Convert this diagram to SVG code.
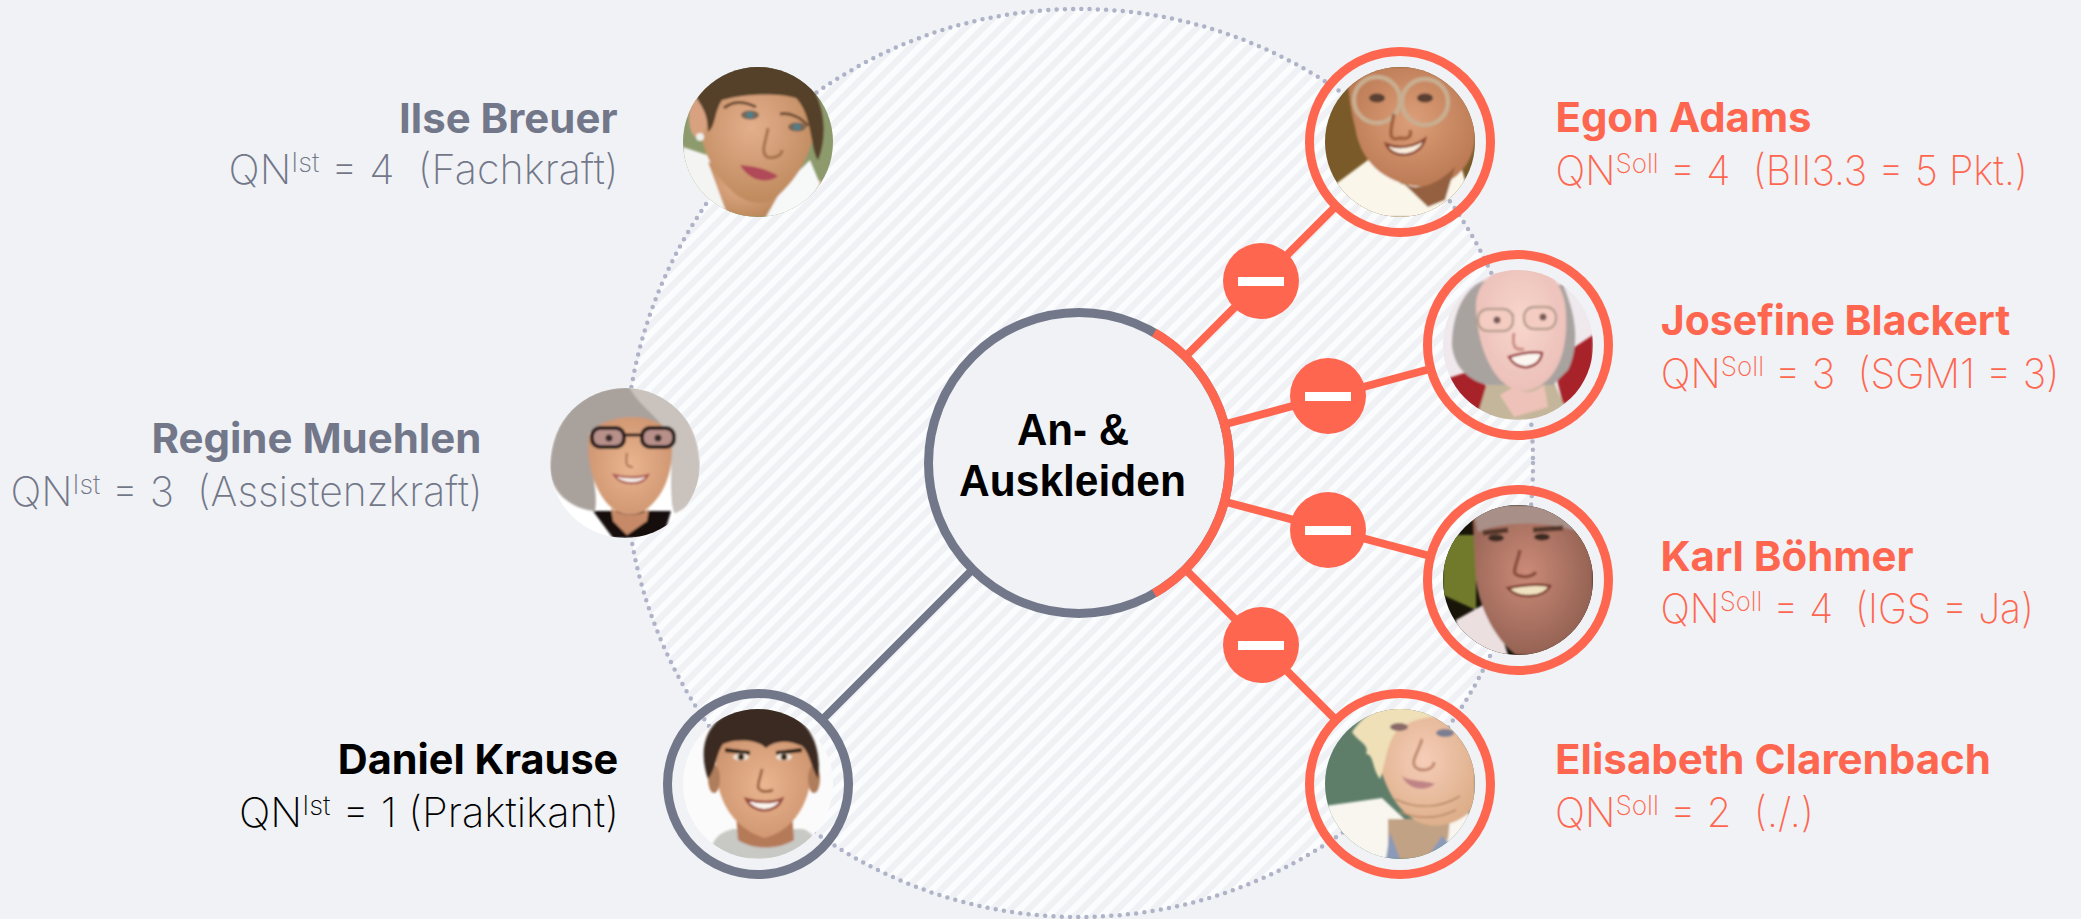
<svg xmlns="http://www.w3.org/2000/svg" width="2081" height="919" viewBox="0 0 2081 919">
<style>
text{white-space:pre}
.n{font:700 41px Inter,"Liberation Sans",sans-serif}
.q{font:250 41px Inter,"Liberation Sans",sans-serif}
.g{fill:#727789}.r{fill:#ff6650}.k{fill:#000}
.c{font:700 44px "Liberation Sans",Arial,sans-serif;fill:#000}
.lr{stroke:#ff6650;stroke-width:8;fill:none}
.lg{stroke:#727789;stroke-width:8;fill:none}
.rr{stroke:#ff6650;stroke-width:9;fill:none}
.rg{stroke:#727789;stroke-width:9;fill:none}
.b{fill:#ff6650}.m{fill:#fff}
</style>
<defs>
<pattern id="h" width="12.6" height="12.6" patternUnits="userSpaceOnUse" patternTransform="rotate(45)"><rect width="12.6" height="12.6" fill="#eff1f5"/><rect width="6.2" height="12.6" fill="#fbfcfd"/></pattern>
<clipPath id="p"><circle r="75"/></clipPath>
<filter id="f" x="-20%" y="-20%" width="140%" height="140%"><feGaussianBlur stdDeviation="1.3"/></filter>
<filter id="s" x="-60%" y="-60%" width="220%" height="220%"><feGaussianBlur stdDeviation="6"/></filter>
<radialGradient id="sk1" cx=".45" cy=".4" r=".7"><stop offset="0" stop-color="#e4ae8c"/><stop offset="1" stop-color="#b98456"/></radialGradient>
<radialGradient id="sk2" cx=".5" cy=".45" r=".75"><stop offset="0" stop-color="#dc9e78"/><stop offset="1" stop-color="#b06e48"/></radialGradient>
<radialGradient id="sk3" cx=".5" cy=".5" r=".7"><stop offset="0" stop-color="#eab58f"/><stop offset="1" stop-color="#c78d68"/></radialGradient>
<radialGradient id="sk5" cx=".5" cy=".45" r=".7"><stop offset="0" stop-color="#f8d6cc"/><stop offset="1" stop-color="#e8bab4"/></radialGradient>
<radialGradient id="sk6" cx=".45" cy=".45" r=".7"><stop offset="0" stop-color="#cc8a78"/><stop offset="1" stop-color="#86584a"/></radialGradient>
<radialGradient id="sk7" cx=".5" cy=".45" r=".7"><stop offset="0" stop-color="#f6cdb8"/><stop offset="1" stop-color="#d8a880"/></radialGradient>
</defs>
<rect id="background" width="2081" height="919" fill="#f0f2f5"/>
<g id="scope">
<circle cx="1079" cy="463" r="454" fill="url(#h)"/>
<circle cx="1079" cy="463" r="454" fill="none" stroke="#aeb3c7" stroke-width="4.5" stroke-linecap="round" stroke-dasharray="0 8.3"/>
</g>
<g id="connectors">
<line class="lr" x1="1185" y1="357" x2="1335" y2="207"/>
<line class="lr" x1="1226" y1="424" x2="1430" y2="369"/>
<line class="lr" x1="1226" y1="502" x2="1430" y2="556"/>
<line class="lr" x1="1185" y1="569" x2="1335" y2="719"/>
<line class="lg" x1="973" y1="569" x2="823" y2="719"/>
</g>
<g id="center-node">
<circle cx="1079" cy="463" r="150.5" fill="#f0f2f5" stroke="#727789" stroke-width="9"/>
<path class="rr" d="M1154.25 332.7A150.5 150.5 0 0 1 1154.25 593.3"/>
<text class="c" x="1017" y="445" textLength="112" lengthAdjust="spacingAndGlyphs">An- &amp;</text>
<text class="c" x="959" y="496" textLength="227" lengthAdjust="spacingAndGlyphs">Auskleiden</text>
</g>
<g id="minus-1"><circle class="b" cx="1261" cy="281" r="38"/><rect class="m" x="1238" y="277" width="46" height="9"/></g>
<g id="minus-2"><circle class="b" cx="1328" cy="396" r="38"/><rect class="m" x="1305" y="392" width="46" height="9"/></g>
<g id="minus-3"><circle class="b" cx="1328" cy="530" r="38"/><rect class="m" x="1305" y="526" width="46" height="9"/></g>
<g id="minus-4"><circle class="b" cx="1261" cy="645" r="38"/><rect class="m" x="1238" y="641" width="46" height="9"/></g>

<g id="ilse-breuer">
<g transform="translate(758 142)" clip-path="url(#p)"><rect x="-75" y="-75" width="150" height="150" fill="#8c9a6c"/>
<g filter="url(#f)">
<path d="M-75 5L-45 15L-20 75H-75Z" fill="#f4f5f3"/>
<path d="M55 35L75 45V75H30Z" fill="#d6a68c"/>
<path d="M-50 20L25 45L10 75H-30Z" fill="url(#sk1)"/>
<path d="M8 75L25 45L52 18L62 42L42 75Z" fill="#f7f9f9"/>
<path d="M-58-40C-62-8-52 25-25 50C-12 62 8 66 22 52C48 28 60-5 58-40C48-72-44-74-58-40Z" fill="url(#sk1)"/>
<ellipse cx="-60" cy="-24" rx="9" ry="20" fill="#d8a280"/>
<path d="M-50-10C-50-40-66-38-62-58C-44-84 32-84 52-58C66-38 70-8 60 18C52 4 54-28 38-44C18-50-16-48-36-42C-44-30-42-16-50-10Z" fill="#55402a"/>
<path d="M-34-34C-24-42-12-40-2-35M22-28C32-30 44-24 50-16" stroke="#6f4e34" stroke-width="3" fill="none"/>
<ellipse cx="-8" cy="-27" rx="9" ry="4.5" fill="#7a6656"/><ellipse cx="39" cy="-15" rx="9" ry="4.5" fill="#7a6656"/>
<circle cx="-8" cy="-27" r="3.5" fill="#4f7f88"/><circle cx="39" cy="-15" r="3.5" fill="#4f7f88"/>
<path d="M10-14C8 0 2 10 9 15C15 17 24 14 24 8" stroke="#a67350" stroke-width="3" fill="none"/>
<path d="M-18 23C-6 24 8 26 20 34C10 42-8 40-18 23Z" fill="#b04a58"/>
<circle cx="-58" cy="-5" r="4" fill="#eeeeea"/>
</g></g>
</g>

<g id="regine-muehlen">
<g transform="translate(625 463)" clip-path="url(#p)"><rect x="-75" y="-75" width="150" height="150" fill="#fff"/>
<g filter="url(#f)">
<path d="M-32 48L46 48L38 75H-12Z" fill="#131010"/>
<path d="M-75 5C-74-45-42-78 4-76C48-76 76-40 75 10C74 32 62 46 50 50C44 42 48-5 46-25C30-40 0-45-36-30C-36 0-26 32-30 48C-55 46-75 28-75 5Z" fill="#a9a19c"/>
<path d="M4-76C48-76 76-40 75 10C74 32 62 46 50 50C44 42 52-5 40-34C30-48 14-58 4-76Z" fill="#c9c2bd"/>
<path d="M-36-28C-26-48 30-56 46-28C50 2 42 30 22 46C12 54-4 54-14 44C-30 30-40-2-36-28Z" fill="url(#sk3)"/>
<path d="M-14 45C-4 54 14 54 24 46L22 58L2 72L-12 58Z" fill="#c78a68"/>
<rect x="-33" y="-35" width="32" height="19" rx="8" fill="#b8908a" stroke="#2c1c1c" stroke-width="4"/>
<rect x="17" y="-35" width="32" height="19" rx="8" fill="#b8908a" stroke="#2c1c1c" stroke-width="4"/>
<path d="M-1-28H17" stroke="#2c1c1c" stroke-width="3"/>
<circle cx="-16" cy="-25" r="3.5" fill="#3a2a28"/><circle cx="33" cy="-25" r="3.5" fill="#3a2a28"/>
<path d="M2-10C0 2 2 4 8 4" stroke="#b87e5e" stroke-width="2.5" fill="none"/>
<path d="M-11 12C0 15 14 15 23 12C18 23-4 23-11 12Z" fill="#f8ece6" stroke="#a8544e" stroke-width="2"/>
</g></g>
</g>

<g id="daniel-krause">
<g transform="translate(758 784)" clip-path="url(#p)"><rect x="-75" y="-75" width="150" height="150" fill="#fbfbfb"/>
<g filter="url(#f)">
<path d="M-50 75C-45 50-35 48-25 45L45 45C55 48 62 60 62 75Z" fill="#c8c8c4"/>
<path d="M-22 30L34 30L36 56C20 66-5 66-20 56Z" fill="#b57a58"/>
<path d="M-42-30C-44 10-30 42 6 54C38 46 56 15 54-30C50-60-38-60-42-30Z" fill="url(#sk3)"/>
<ellipse cx="-44" cy="-5" rx="6" ry="14" fill="#b07d5c"/><ellipse cx="56" cy="-5" rx="6" ry="14" fill="#b07d5c"/>
<path d="M-50-5C-62-40-50-72-5-78C40-80 66-50 60-5C52-20 52-30 44-38C30-44 18-44 8-36C0-44-20-46-35-40C-42-30-42-15-50-5Z" fill="#3b2a20"/>
<path d="M-33-34L-8-31M18-31L44-34" stroke="#2f2018" stroke-width="4"/>
<ellipse cx="-17" cy="-27" rx="8" ry="3.5" fill="#efe0d0"/><ellipse cx="26" cy="-27" rx="8" ry="3.5" fill="#efe0d0"/>
<circle cx="-17" cy="-27" r="3.2" fill="#3a2a1c"/><circle cx="26" cy="-27" r="3.2" fill="#3a2a1c"/>
<path d="M4-15C1 0-3 4 4 7C8 8 10 8 15 6" stroke="#a26a48" stroke-width="3" fill="none"/>
<path d="M-12 15C0 19 15 19 24 15C18 30-5 30-12 15Z" fill="#fbf4ee" stroke="#9a4a3c" stroke-width="2.5"/>
</g></g>
<circle class="rg" cx="758" cy="784" r="90.5"/>
</g>

<g id="egon-adams">
<g transform="translate(1400 142)" clip-path="url(#p)"><rect x="-75" y="-75" width="150" height="150" fill="#7a5a28"/>
<g filter="url(#f)">
<path d="M-75 50L-32 18L2 42L28 45L60 20L75 75H-75Z" fill="#fbf6ea"/>
<path d="M-52-75H75V0C70 30 45 50 15 44C-15 40-40 20-45-15C-50-35-53-55-52-75Z" fill="url(#sk2)"/>
<path d="M2 40C15 50 35 45 55 25L45 58L28 65Z" fill="#95613f"/>
<circle cx="-23" cy="-42" r="23" fill="none" stroke="#c8ae90" stroke-width="4.5"/><circle cx="25" cy="-40" r="23" fill="none" stroke="#c8ae90" stroke-width="4.5"/>
<ellipse cx="-23" cy="-44" rx="8" ry="4.5" fill="#5a4030"/><ellipse cx="25" cy="-44" rx="8" ry="4.5" fill="#5a4030"/>
<path d="M-6-28C-10-10-12 0 0-4C8-2 12-6 10-12" stroke="#a3623e" stroke-width="3.5" fill="none"/>
<path d="M-14 2C0 8 15 4 25-3C20 16-8 18-14 2Z" fill="#fbeedd" stroke="#8a4632" stroke-width="2.5"/>
</g></g>
<circle class="rr" cx="1400" cy="142" r="90.5"/>
</g>

<g id="josefine-blackert">
<g transform="translate(1518 345)" clip-path="url(#p)"><rect x="-75" y="-75" width="150" height="150" fill="#efe8ec"/>
<g filter="url(#f)">
<path d="M-75 35L-45 25L-20 55L-20 75H-75Z" fill="#a8242c"/>
<path d="M38 30L52 5L75-10V40L45 60Z" fill="#a8242c"/>
<path d="M-42 75L-30 35L35 35L46 60L30 75Z" fill="#c4b69a"/>
<path d="M-66 0C-66-35-50-62-30-65L45-60C58-30 62 0 50 25L35 40L-30 40C-52 35-64 20-66 0Z" fill="#a9a3a0"/>
<path d="M-42-35C-44-62-22-80 4-80C30-80 48-60 48-30C50 8 38 40 8 46C-20 48-40 8-42-35Z" fill="url(#sk5)"/>
<path d="M-4 42C6 50 16 48 26 40L30 62L-4 72L-18 50Z" fill="#eec2b8"/>
<path d="M-42-24L-4-30M8-30L36-32" stroke="#a88a80" stroke-width="2.5"/>
<rect x="-40" y="-36" width="35" height="22" rx="10" fill="#f4ccc2" stroke="#bba090" stroke-width="2.5"/><rect x="6" y="-38" width="32" height="22" rx="10" fill="#f4ccc2" stroke="#bba090" stroke-width="2.5"/>
<circle cx="-21" cy="-25" r="3.5" fill="#7a5c58"/><circle cx="25" cy="-28" r="3.5" fill="#7a5c58"/>
<path d="M-4-12C-6 0-4 6 6 4" stroke="#cc9084" stroke-width="3" fill="none"/>
<path d="M-9 12C4 8 15 6 24 8C22 24 0 28-9 12Z" fill="#fbf6f0" stroke="#9a3a3a" stroke-width="2.5"/>
</g></g>
<circle class="rr" cx="1518" cy="345" r="90.5"/>
</g>

<g id="karl-boehmer">
<g transform="translate(1518 580)" clip-path="url(#p)"><rect x="-75" y="-75" width="150" height="150" fill="#181409"/>
<g filter="url(#f)">
<path d="M-75-45H-42V30L-75 15Z" fill="#6f7a2a"/>
<path d="M-62 40L-35 25L-15 60L-10 75H-60Z" fill="#ecdfe0"/>
<path d="M-46-75H75V75H-2C-22 60-38 30-42 0Z" fill="url(#sk6)"/>
<path d="M-46-75L-40-48C-20-58 25-60 55-50L70-75Z" fill="#a89088"/>
<path d="M-35-47L-10-50M15-50L45-52" stroke="#54382c" stroke-width="5"/>
<ellipse cx="-22" cy="-42" rx="8" ry="3.5" fill="#3c2a20"/><ellipse cx="24" cy="-43" rx="8" ry="3.5" fill="#3c2a20"/>
<path d="M2-30C-2-12-8-6 2-4C10-2 16-5 18-8" stroke="#8a5040" stroke-width="3.5" fill="none"/>
<path d="M-10 8C5 5 22 4 32 6C26 18 0 20-10 8Z" fill="#f0e2c0" stroke="#7a3a2e" stroke-width="2.5"/>
</g></g>
<circle class="rr" cx="1518" cy="580" r="90.5"/>
</g>

<g id="elisabeth-clarenbach">
<g transform="translate(1400 784)" clip-path="url(#p)"><rect x="-75" y="-75" width="150" height="150" fill="#5e7e6a"/>
<g filter="url(#f)">
<path d="M-75 22L-18 14L15 45L66 25L75 40V75H-75Z" fill="#f8f6ee"/>
<path d="M-12 35L50 35L48 55L26 75H-12Z" fill="#c2a284"/>
<path d="M-14 75L-10 48L0 75ZM26 75L42 52L50 60L35 75Z" fill="#8a9ab8"/>
<path d="M-28-78H75V22C60 42 30 48 12 34C-14 18-28-30-28-78Z" fill="url(#sk7)"/>
<path d="M-48-52C-36-70-20-80 10-82C40-82 60-76 70-64C40-72 15-66 0-56C-14-44-14-20-20-5C-28-15-26-30-34-30C-30-40-42-42-48-52Z" fill="#efe0b8"/>
<ellipse cx="-1" cy="-57" rx="9" ry="4" fill="#8a6a68"/><ellipse cx="45" cy="-51" rx="9" ry="4" fill="#7a7e92"/>
<path d="M22-45C18-30 8-20 18-15C26-12 34-16 34-22" stroke="#c08c70" stroke-width="3" fill="none"/>
<path d="M2-8C10-2 25-4 35 0C25 8 8 6 2-8Z" fill="#c08486"/>
<path d="M-5 15C15 25 40 25 60 12M0 28C20 36 40 34 56 26" stroke="#b88a68" stroke-width="1.5" fill="none"/>
</g></g>
<circle class="rr" cx="1400" cy="784" r="90.5"/>
</g>

<g id="labels">
<text class="n g" x="399" y="132.5" textLength="218.5" lengthAdjust="spacingAndGlyphs">Ilse Breuer</text>
<text class="q g" x="228.6" y="184" textLength="390" lengthAdjust="spacingAndGlyphs">QN<tspan font-size="27" dy="-12">Ist</tspan><tspan dy="12"> = 4  (Fachkraft)</tspan></text>
<text class="n g" x="151.4" y="453" textLength="330" lengthAdjust="spacingAndGlyphs">Regine Muehlen</text>
<text class="q g" x="10.5" y="505.5" textLength="472" lengthAdjust="spacingAndGlyphs">QN<tspan font-size="27" dy="-12">Ist</tspan><tspan dy="12"> = 3  (Assistenzkraft)</tspan></text>
<text class="n k" x="337.8" y="774" textLength="280.5" lengthAdjust="spacingAndGlyphs">Daniel Krause</text>
<text class="q k" x="239" y="826.5" textLength="380" lengthAdjust="spacingAndGlyphs">QN<tspan font-size="27" dy="-12">Ist</tspan><tspan dy="12"> = 1 (Praktikant)</tspan></text>
<text class="n r" x="1555.5" y="132" textLength="256" lengthAdjust="spacingAndGlyphs">Egon Adams</text>
<text class="q r" x="1555.5" y="185" textLength="472.5" lengthAdjust="spacingAndGlyphs">QN<tspan font-size="27" dy="-12">Soll</tspan><tspan dy="12"> = 4  (BII3.3 = 5 Pkt.)</tspan></text>
<text class="n r" x="1660.8" y="335" textLength="349.5" lengthAdjust="spacingAndGlyphs">Josefine Blackert</text>
<text class="q r" x="1660.8" y="388" textLength="398.5" lengthAdjust="spacingAndGlyphs">QN<tspan font-size="27" dy="-12">Soll</tspan><tspan dy="12"> = 3  (SGM1 = 3)</tspan></text>
<text class="n r" x="1660.5" y="570.5" textLength="253" lengthAdjust="spacingAndGlyphs">Karl Böhmer</text>
<text class="q r" x="1660.5" y="622.5" textLength="373.5" lengthAdjust="spacingAndGlyphs">QN<tspan font-size="27" dy="-12">Soll</tspan><tspan dy="12"> = 4  (IGS = Ja)</tspan></text>
<text class="n r" x="1555" y="774" textLength="436" lengthAdjust="spacingAndGlyphs">Elisabeth Clarenbach</text>
<text class="q r" x="1555" y="826.5" textLength="259" lengthAdjust="spacingAndGlyphs">QN<tspan font-size="27" dy="-12">Soll</tspan><tspan dy="12"> = 2  (./.)</tspan></text>
</g>
</svg>
